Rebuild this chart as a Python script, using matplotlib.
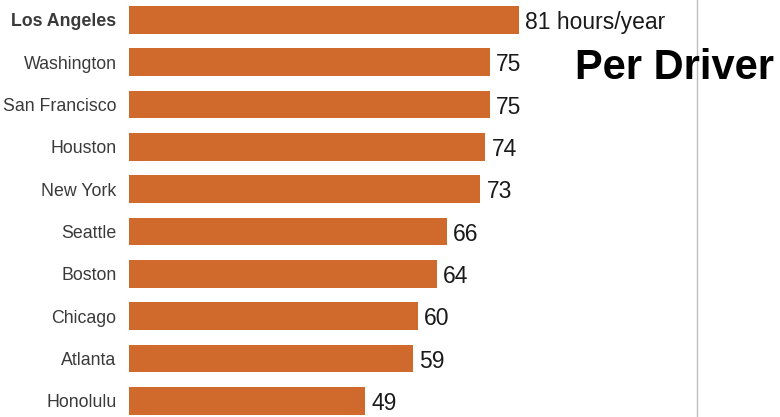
import matplotlib
matplotlib.use("Agg")
import matplotlib.pyplot as plt

cities = ["Los Angeles", "Washington", "San Francisco", "Houston", "New York",
          "Seattle", "Boston", "Chicago", "Atlanta", "Honolulu"]
hours = [81, 75, 75, 74, 73, 66, 64, 60, 59, 49]
bar_color = "#d06a2c"
sans = ["Liberation Sans", "DejaVu Sans"]

fig = plt.figure(figsize=(7.8, 4.17), dpi=100)
ax = fig.add_axes([129 / 780, 0, 568 / 780, 1])

pos = list(range(len(cities)))
ax.barh(pos, hours, height=0.65, color=bar_color)
ax.set_xlim(0, 118)
ax.set_ylim(9.38, -0.47)

ax.set_yticks(pos)
ax.set_yticklabels(cities, family=sans, fontsize=12.8, color="#3a3a3a")
ax.get_yticklabels()[0].set_fontweight("bold")
ax.tick_params(axis="y", length=0, pad=9)
ax.set_xticks([])

for sp in ["left", "top", "bottom"]:
    ax.spines[sp].set_visible(False)
ax.spines["right"].set_color("#bdbdbd")
ax.spines["right"].set_linewidth(1.0)

# value labels
for i, v in enumerate(hours):
    txt = f"{v} hours/year" if i == 0 else str(v)
    ax.text(v + 1.3, i, txt, va="center_baseline", ha="left", family=sans,
            fontsize=16.5, color="#1a1a1a")

fig.text(575 / 780, 1 - 68 / 417, "Per Driver", ha="left", va="center",
         fontsize=30, fontweight="bold", color="black", family=sans, zorder=5)

fig.savefig("out.png", dpi=100)
